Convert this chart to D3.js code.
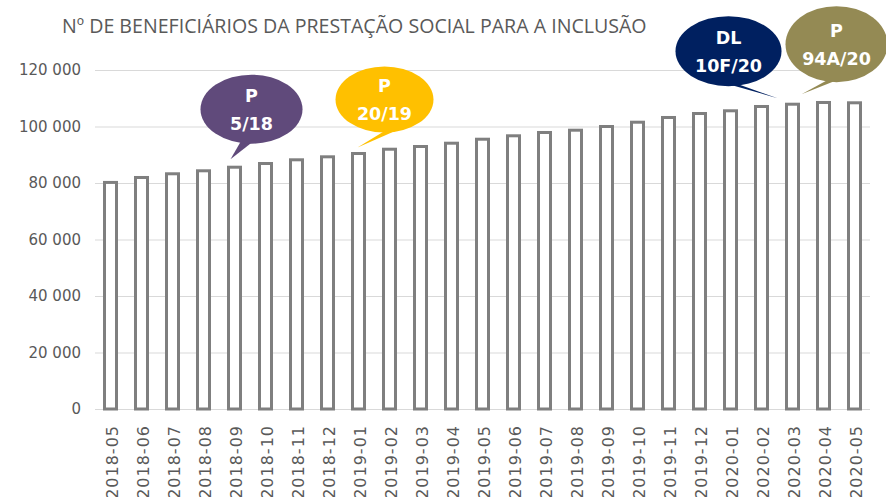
<!DOCTYPE html>
<html>
<head>
<meta charset="utf-8">
<script src="https://cdn.jsdelivr.net/npm/d3@7"></script>
<style>
  body { margin: 0; background: #fff; }
  svg { display: block; }
</style>
</head>
<body>
<div id="chart"></div>
<script>
// data
var months = ["2018-05","2018-06","2018-07","2018-08","2018-09","2018-10","2018-11","2018-12",
	"2019-01","2019-02","2019-03","2019-04","2019-05","2019-06","2019-07","2019-08","2019-09",
	"2019-10","2019-11","2019-12","2020-01","2020-02","2020-03","2020-04","2020-05"];
var beneficiaries = [80200, 81950, 83260, 84320, 85590, 86900, 88210, 89270,
	90440, 91960, 92920, 94090, 95500, 96710, 97880, 98690, 100000,
	101520, 103190, 104600, 105560, 107080, 107890, 108500, 108390];
var yTicks = [0, 20000, 40000, 60000, 80000, 100000, 120000];
var title = "Nº DE BENEFICIÁRIOS DA PRESTAÇÃO SOCIAL PARA A INCLUSÃO";

// legislation call-outs, attached to a month
var notes = [
	{month: "2018-09", lines: ["P", "5/18"], color: "#604a7b"},
	{month: "2019-01", lines: ["P", "20/19"], color: "#ffc000"},
	{month: "2020-03", lines: ["DL", "10F/20"], color: "#002060"},
	{month: "2020-03", lines: ["P", "94A/20"], color: "#948a54"}
];
// bubble layout: tail tip offset from bar top, ellipse offset from tip, radii
var noteLayout = [
	{tx: -4, ty: -8, ex: 21, ey: -50, rx: 51, ry: 34.5, base: [-6, 12]},
	{tx: -1, ty: -6, ex: 27, ey: -48, rx: 49, ry: 33, base: [14, 30]},
	{tx: -15, ty: -6, ex: -49, ey: -47, rx: 53, ry: 35, base: [-30, -14]},
	{tx: 9, ty: -10, ex: 35, ey: -50, rx: 51, ry: 38, base: [8, 24]}
];

var W = 886, H = 497;
var svg = d3.select("#chart").append("svg")
	.attr("width", W)
	.attr("height", H);

var x = d3.scaleBand()
	.domain(months)
	.range([95, 870])
	.paddingInner(0)
	.paddingOuter(0);

var y = d3.scaleLinear()
	.domain([0, 120000])
	.range([409, 70]);

var fmt = function(d){ return d3.format(",")(d).replace(/,/g, " "); };

// gridlines
svg.append("g")
	.selectAll("line")
	.data(yTicks)
	.join("line")
	.attr("x1", 95)
	.attr("x2", 870)
	.attr("y1", function(d){ return y(d) + 0.5; })
	.attr("y2", function(d){ return y(d) + 0.5; })
	.attr("stroke", "#d9d9d9")
	.attr("stroke-width", 1);

// y axis labels
var yAxis = d3.axisLeft(y).tickValues(yTicks).tickSize(0).tickPadding(0).tickFormat(fmt);
svg.append("g")
	.attr("transform", "translate(81,0)")
	.call(yAxis)
	.call(function(g){ g.select(".domain").remove(); })
	.selectAll("text")
	.attr("fill", "#595959")
	.attr("font-family", "DejaVu Sans")
	.attr("font-size", "15px");

// x axis labels
var xAxis = d3.axisBottom(x).tickSize(0).tickPadding(0);
svg.append("g")
	.attr("transform", "translate(0,409)")
	.call(xAxis)
	.call(function(g){ g.select(".domain").remove(); })
	.selectAll("text")
	.attr("fill", "#595959")
	.attr("font-family", "DejaVu Sans")
	.attr("font-size", "16px")
	.attr("letter-spacing", "1px")
	.attr("text-anchor", "end")
	.attr("dy", null)
	.attr("transform", "translate(7,16) rotate(-90)");

// bars
var barW = 12;
svg.append("g")
	.selectAll("rect")
	.data(beneficiaries)
	.join("rect")
	.attr("x", function(d, i){ return x(months[i]) + x.bandwidth() / 2 - barW / 2; })
	.attr("y", function(d){ return y(d); })
	.attr("width", barW)
	.attr("height", function(d){ return y(0) - y(d); })
	.attr("fill", "#ffffff")
	.attr("stroke", "#7f7f7f")
	.attr("stroke-width", 3);

// title
svg.append("text")
	.attr("x", 62)
	.attr("y", 33)
	.attr("fill", "#595959")
	.attr("font-family", "Open Sans")
	.attr("font-size", "19.6px")
	.text(title);

// speech bubbles
notes.forEach(function(n, i){
	var L = noteLayout[i];
	var idx = months.indexOf(n.month);
	var tipX = x(n.month) + x.bandwidth() / 2 + L.tx;
	var tipY = y(beneficiaries[idx]) + L.ty;
	var cx = tipX + L.ex, cy = tipY + L.ey;
	var g = svg.append("g");

	g.append("path")
		.attr("d", "M" + (cx + L.base[0]) + "," + (cy + L.ry * 0.7) +
			" L" + tipX + "," + tipY +
			" L" + (cx + L.base[1]) + "," + (cy + L.ry * 0.7) + " Z")
		.attr("fill", n.color);

	g.append("ellipse")
		.attr("cx", cx)
		.attr("cy", cy)
		.attr("rx", L.rx)
		.attr("ry", L.ry)
		.attr("fill", n.color);

	g.selectAll("text")
		.data(n.lines)
		.join("text")
		.attr("x", cx)
		.attr("y", function(d, j){ return cy + (j - 0.5) * 28; })
		.attr("dy", "0.36em")
		.attr("text-anchor", "middle")
		.attr("fill", "#ffffff")
		.attr("font-family", "DejaVu Sans")
		.attr("font-weight", "bold")
		.attr("font-size", "17.5px")
		.text(function(d){ return d; });
});
</script>
</body>
</html>
